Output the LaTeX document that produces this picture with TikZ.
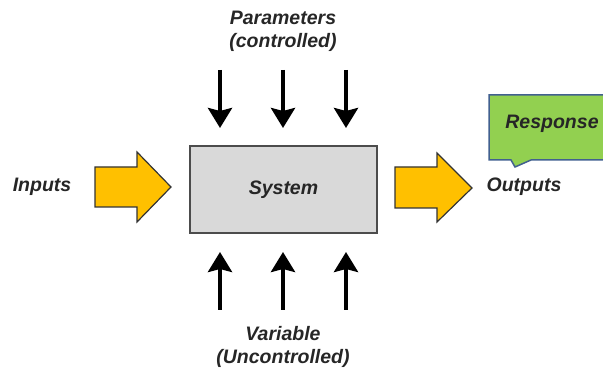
\documentclass[tikz,border=0pt]{standalone}
\usepackage{fontspec}
\setmainfont{Liberation Sans}
\usetikzlibrary{arrows.meta}
\definecolor{txt}{HTML}{262626}
\definecolor{arrowfill}{HTML}{FFC000}
\definecolor{sysfill}{HTML}{D9D9D9}
\definecolor{greenfill}{HTML}{92D050}
\definecolor{greenedge}{HTML}{41608F}
\tikzset{
  lbl/.style={font=\fontsize{19.5}{22}\selectfont\bfseries\itshape, text=txt, align=center, inner sep=0pt},
  bigarrow/.style={fill=arrowfill, draw=black!80, line width=1.2pt, line join=miter},
  thin arrow/.style={line width=4pt, -{Stealth[width=24pt,length=20pt,inset=3pt]}},
}
\begin{document}
\begin{tikzpicture}[x=1pt,y=-1pt]
\useasboundingbox (0,0) rectangle (603,374);
% system box
\node[draw=black!70, fill=sysfill, line width=1.2pt, minimum width=187pt, minimum height=87pt, inner sep=0pt] (sys) at (283.5,189.5) {};
\node[lbl] (systxt) at (sys.center) {System};
% left big arrow
\draw[bigarrow] (95,167) -- (137,167) -- (137,152) -- (171,187) -- (137,222) -- (137,207) -- (95,207) -- cycle;
% right big arrow
\draw[bigarrow] (395,167) -- (437,167) -- (437,153) -- (472,188) -- (437,222) -- (437,208) -- (395,208) -- cycle;
\node[lbl] (inputs) at (42,187) {Inputs};
\node[lbl] (outputs) at (524,187) {Outputs};
% top arrows
\coordinate (t1) at (220,70); \coordinate (t1e) at (220,128);
\coordinate (t2) at (283,70); \coordinate (t2e) at (283,128);
\coordinate (t3) at (346,70); \coordinate (t3e) at (346,128);
\draw[thin arrow] (t1) -- (t1e);
\draw[thin arrow] (t2) -- (t2e);
\draw[thin arrow] (t3) -- (t3e);
% bottom arrows
\coordinate (b1) at (220,310); \coordinate (b1e) at (220,252);
\coordinate (b2) at (283,310); \coordinate (b2e) at (283,252);
\coordinate (b3) at (346,310); \coordinate (b3e) at (346,252);
\draw[thin arrow] (b1) -- (b1e);
\draw[thin arrow] (b2) -- (b2e);
\draw[thin arrow] (b3) -- (b3e);
\node[lbl] (params) at (283,31) {Parameters\\[1pt](controlled)};
\node[lbl] (vars) at (283,347) {Variable\\[1pt](Uncontrolled)};
% response callout
\draw[fill=greenfill, draw=greenedge, line width=1.5pt, line join=miter] (489,95) -- (605,95) -- (605,160) -- (531,160) -- (515,167) -- (511,160) -- (489,160) -- cycle;
\node[lbl, text=black!85] (resp) at (552,124) {Response};
\end{tikzpicture}
\end{document}
